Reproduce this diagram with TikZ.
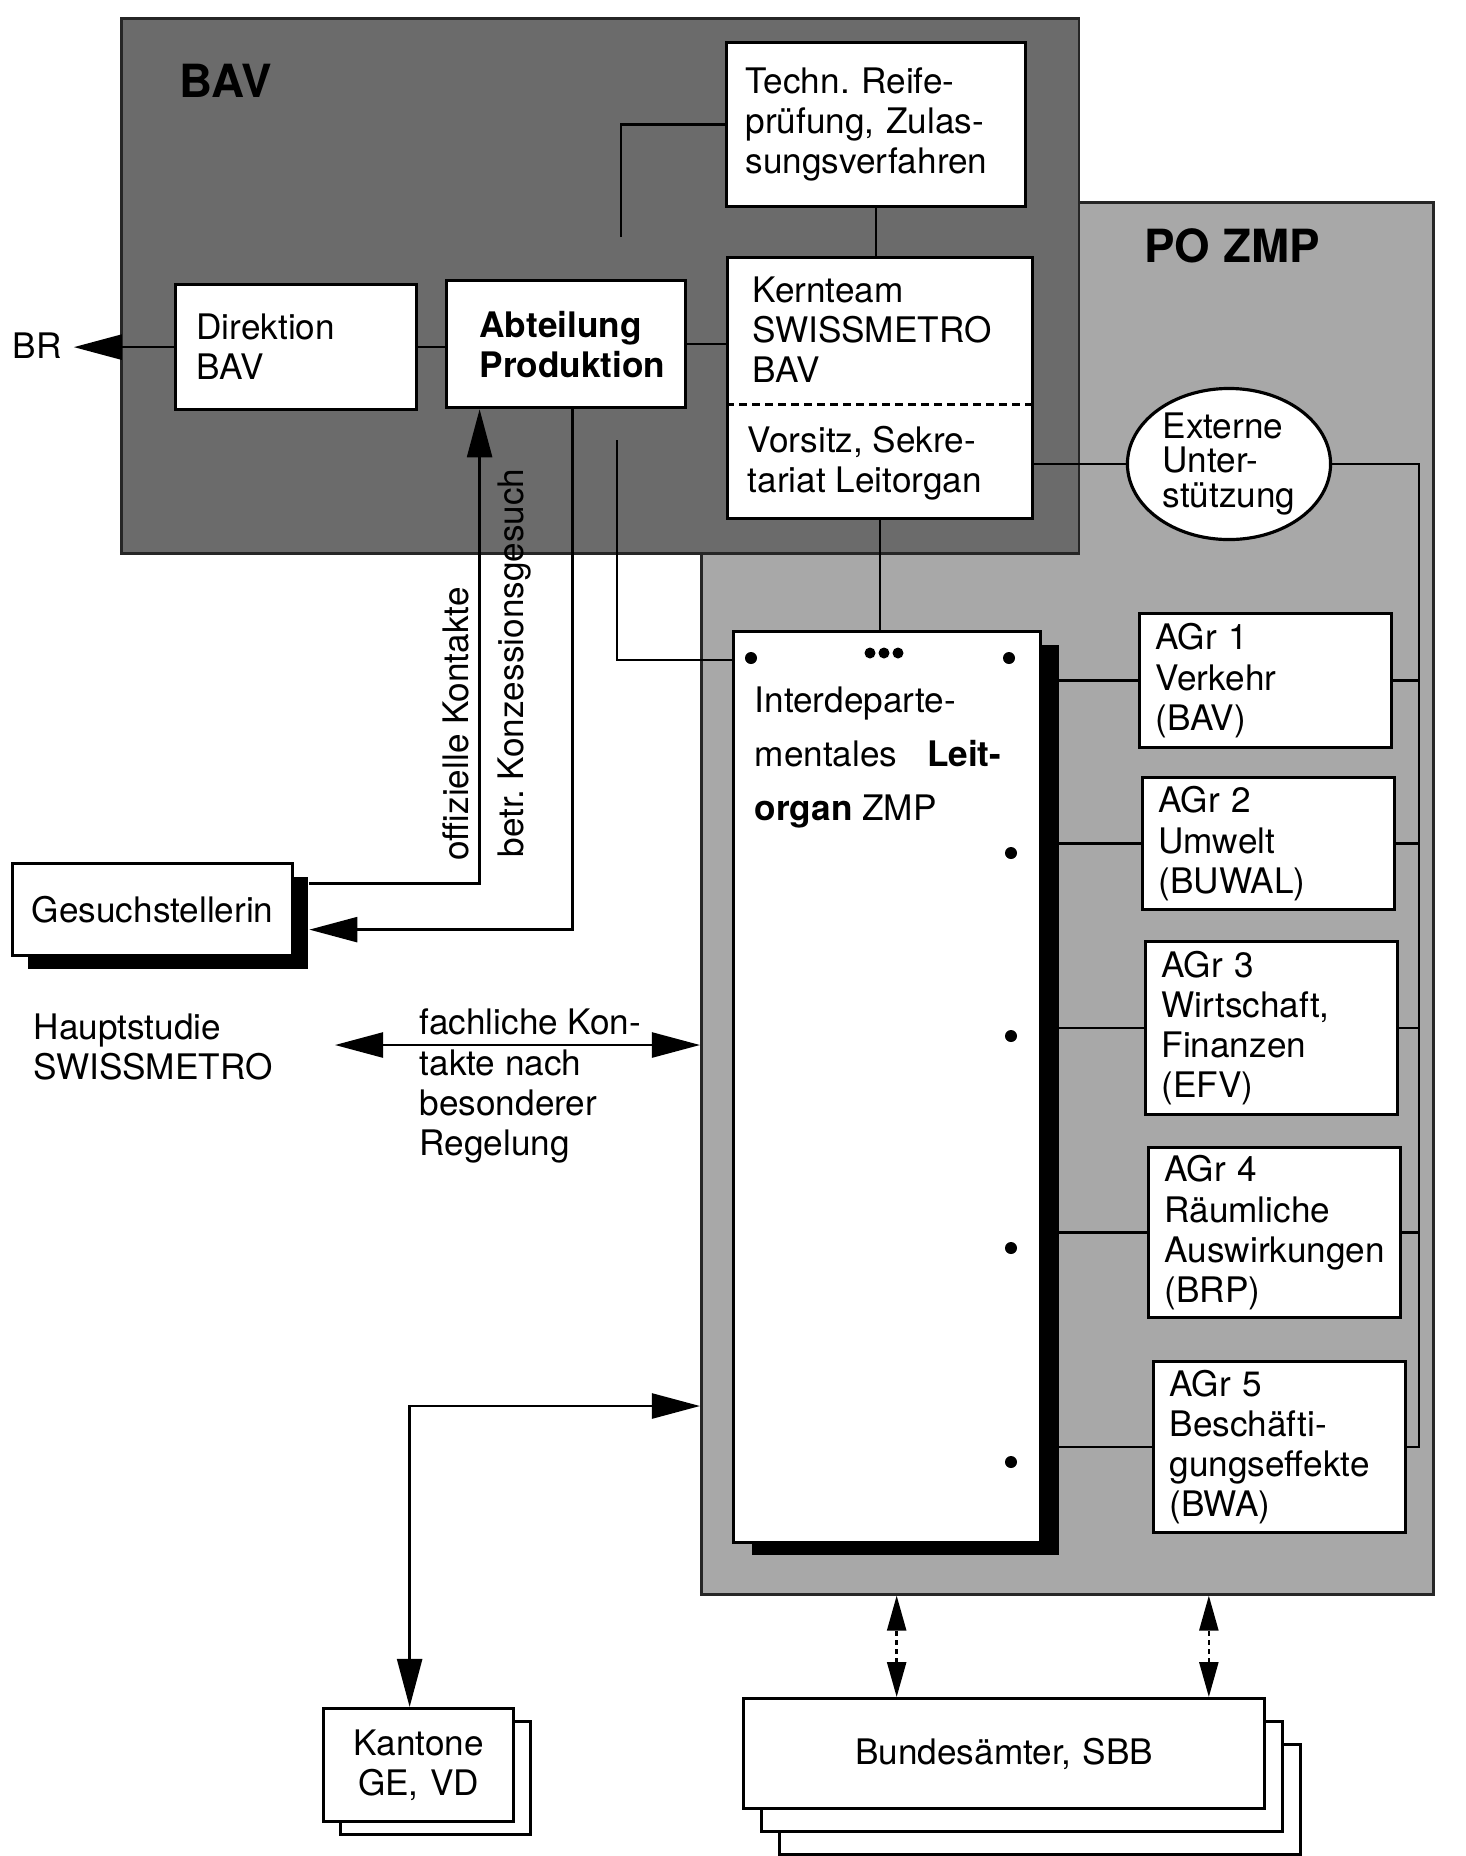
\documentclass[tikz,border=0pt]{standalone}
\usepackage{fontspec}
\setmainfont{TeX Gyre Heros}
\usetikzlibrary{arrows.meta, shapes.geometric, shadows}
\frenchspacing

\tikzset{
  box/.style={draw, fill=white, line width=0.9pt, anchor=north west, align=left, inner ysep=0pt},
  agr/.style={box, inner xsep=0.16cm, text width=2.2cm},
  link/.style={line width=0.7pt},
  head/.style={font=\fontsize{13}{15}\selectfont\bfseries},
  strong/.style={font=\fontsize{10}{11.4}\selectfont\bfseries},
  blackshadow/.style={drop shadow={fill=black, opacity=1, shadow xshift=#1, shadow yshift=-0.13cm}},
}

\begin{document}
\begin{tikzpicture}[x=0.01cm, y=-0.01cm, font=\fontsize{10}{11.4}\selectfont,
  >={Triangle[length=0.48cm, width=0.25cm]}]

\useasboundingbox (0,0) rectangle (1465,1856);
\clip (0,0) rectangle (1465,1856);

% ----------------- Shaded panels -----------------
\node[draw=black!85, fill=black!34, line width=0.8pt, anchor=north west, inner sep=0pt,
      minimum width=7.32cm, minimum height=13.91cm] (pozmp) at (700,201) {};
\node[draw=black!85, fill=black!58, line width=0.8pt, anchor=north west, inner sep=0pt,
      minimum width=9.57cm, minimum height=5.35cm] (bav) at (120,17) {};

\node[head] (bavlbl)   at (226,81)  {BAV};
\node[head] (pozmplbl) at (1232,246) {PO ZMP};

% ----------------- BAV boxes -----------------
\node[box, inner xsep=0.19cm, text width=2.61cm, minimum height=1.64cm] (techn) at (725,41)
  {Techn. Reife-\\prüfung, Zulas-\\sungsverfahren};
\node[box, inner xsep=0.21cm, text width=1.99cm, minimum height=1.25cm] (dir) at (174,283)
  {Direktion\\BAV};
\node[box, strong, inner xsep=0.33cm, text width=1.73cm, minimum height=1.27cm] (abt) at (445,279)
  {Abteilung\\Produktion};

\node[box, inner sep=0pt, minimum width=3.05cm, minimum height=2.61cm] (kern) at (726,256) {};
\node[anchor=west, align=left, inner sep=0pt] (kernup)  at (752,330) {Kernteam\\SWISSMETRO\\BAV};
\node[anchor=west, align=left, inner sep=0pt] (vorsitz) at (747,463) {Vorsitz, Sekre-\\tariat Leitorgan};
\draw[line width=0.9pt, dash pattern=on 0.08cm off 0.05cm]
  ([yshift=-1.48cm]kern.north west) -- ([yshift=-1.48cm]kern.north east);

% ----------------- PO ZMP boxes -----------------
\node[ellipse, draw, fill=white, line width=0.9pt, inner sep=0pt, align=left,
      minimum width=2.03cm, minimum height=1.51cm, font=\fontsize{10}{9.7}\selectfont] (ext) at (1229,464)
  {Externe\\Unter-\\stützung};

\node[box, blackshadow=0.18cm, inner sep=0pt, minimum width=3.07cm, minimum height=9.1cm] (leit) at (732,630) {};
\node[anchor=north west, align=left, inner sep=0pt, font=\fontsize{10}{15.4}\selectfont] (leittxt) at (754,686)
  {Interdeparte-\\mentales\hspace{0.2cm} \textbf{Leit-}\\\textbf{organ} ZMP};

\node[agr, minimum height=1.34cm] (agr1) at (1138,612)  {AGr 1\\Verkehr\\(BAV)};
\node[agr, minimum height=1.32cm] (agr2) at (1141,776)  {AGr 2\\Umwelt\\(BUWAL)};
\node[agr, minimum height=1.73cm] (agr3) at (1144,940)  {AGr 3\\Wirtschaft,\\Finanzen\\(EFV)};
\node[agr, minimum height=1.70cm] (agr4) at (1147,1146) {AGr 4\\Räumliche\\Auswirkungen\\(BRP)};
\node[agr, minimum height=1.71cm] (agr5) at (1152,1360) {AGr 5\\Beschäfti-\\gungseffekte\\(BWA)};

% ----------------- Outside the panels -----------------
\node (br) at (37,346) {BR};
\node[box, blackshadow=0.15cm, align=center, inner xsep=0pt, text width=2.8cm, minimum height=0.92cm] (gesuch) at (11,862)
  {Gesuchstellerin};
\node[anchor=west, align=left, inner sep=0pt] (haupt) at (33,1047) {Hauptstudie\\SWISSMETRO};
\node[anchor=west, align=left, inner sep=0pt] (fach)  at (419,1086) {fachliche Kon-\\takte nach\\besonderer\\Regelung};

\node[rotate=90] (offiz) at (456,724) {offizielle Kontakte};
\node[rotate=90] (konz)  at (515,663) {betr. Konzessionsgesuch};

% stacked boxes
\node[box, inner sep=0pt, minimum width=1.9cm, minimum height=1.13cm] (kantonb) at (339,1720) {};
\node[box, align=center, inner xsep=0pt, text width=1.9cm, minimum height=1.13cm] (kanton) at (322,1707)
  {Kantone\\GE, VD};

\node[box, inner sep=0pt, minimum width=5.21cm, minimum height=1.1cm] (bundc) at (778,1743) {};
\node[box, inner sep=0pt, minimum width=5.21cm, minimum height=1.1cm] (bundb) at (760,1720) {};
\node[box, align=center, inner xsep=0pt, text width=5.21cm, minimum height=1.1cm] (bund) at (742,1697)
  {Bundesämter, SBB};

% ----------------- Connectors -----------------
\coordinate (technend) at (621,237);
\coordinate (bavfree)  at (617,440);
\coordinate (fachL)    at (335,1045);
\coordinate (kantonL)  at (0,1406);
\coordinate (rail)     at (1419,1448);

\draw[link, ->] (dir.west) -- (dir.west -| br.east);
\draw[link] (dir.east) -- (dir.east -| abt.west);
\draw[link] (abt.east) -- (abt.east -| kern.west);
\draw[link] (techn.west) -| (technend);
\draw[link] (techn.south) -- (techn.south |- kern.north);
\draw[link] (kern.south) -- (kern.south |- leit.north);

\draw[link, ->] ([xshift=0.15cm, yshift=0.26cm]gesuch.east) -| ([xshift=-0.865cm]abt.south);
\draw[link, ->] ([xshift=0.065cm]abt.south) |- ([xshift=0.15cm, yshift=-0.2cm]gesuch.east);
\draw[link] (bavfree) |- ([yshift=-0.3cm]leit.north west);

\draw[link, <->] (fachL) -- (fachL -| pozmp.west);
\draw[link, <->] (pozmp.west |- kantonL) -| ([xshift=-0.09cm]kanton.north);

\draw[link] (ext.west -| kern.east) -- (ext.west);
\draw[link] (ext.east) -| (rail);
\foreach \g in {1,...,5} {
  \draw[link] (agr\g.west -| leit.east) -- (agr\g.west);
  \draw[link] (agr\g.east) -- (agr\g.east -| rail);
}

\draw[link, <->, dash pattern=on 0.05cm off 0.04cm, >={Triangle[length=0.35cm, width=0.19cm]}]
  ([xshift=-1.075cm]bund.north) -- ([xshift=-1.075cm]bund.north |- pozmp.south);
\draw[link, <->, dash pattern=on 0.05cm off 0.04cm, >={Triangle[length=0.35cm, width=0.19cm]}]
  ([xshift=2.045cm]bund.north) -- ([xshift=2.045cm]bund.north |- pozmp.south);

% ----------------- Dots -----------------
\fill (751,658) circle (0.06cm);
\fill (1009,658) circle (0.06cm);
\foreach \x in {870,884,898}
  \fill (\x,653) circle (0.055cm);
\foreach \y in {853,1036,1248,1462}
  \fill (1011,\y) circle (0.06cm);

\end{tikzpicture}
\end{document}
